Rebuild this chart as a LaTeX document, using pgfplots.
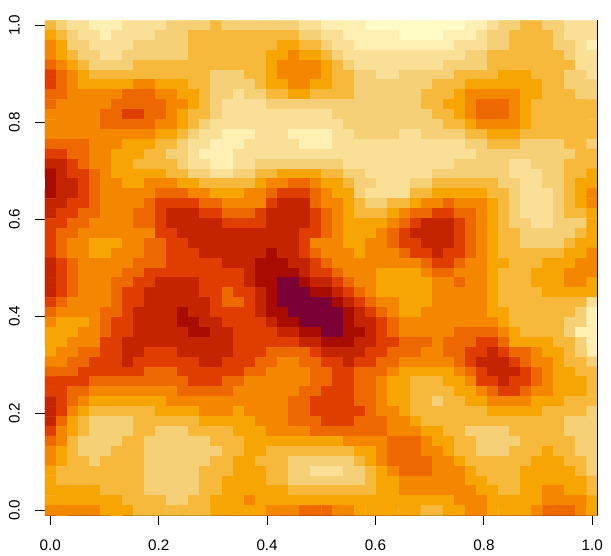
\documentclass[border=0pt]{standalone}
\usepackage{fontspec}
\setmainfont{Liberation Sans}
\usepackage{pgfplots}
\pgfplotsset{compat=1.18}

\begin{document}
\begin{tikzpicture}
\useasboundingbox (-44.8bp,-40.7bp) rectangle (566.2bp,515.3bp);
\begin{axis}[
    scale only axis,
    width=553bp, height=495bp,
    xmin=-0.0102, xmax=1.0102,
    ymin=-0.0102, ymax=1.0102,
    axis x line=bottom, axis y line=left,
    axis line style={-, black, line width=1bp},
    y axis line style={draw=none},
    xtick={0,0.2,0.4,0.6,0.8,1},
    ytick={0,0.2,0.4,0.6,0.8,1},
    tick align=outside,
    major tick length=9.5bp,
    tick style={black, line width=0.9bp},
    /pgf/number format/assume math mode=true,
    /pgf/number format/fixed,
    /pgf/number format/zerofill,
    /pgf/number format/precision=1,
    tick label style={font=\fontsize{15.3}{18}\selectfont, black},
    yticklabel style={rotate=90, anchor=south, yshift=12bp},
    xticklabel style={yshift=-12bp},
    colormap={pal}{rgb255=(122,0,53) rgb255=(168,11,0) rgb255=(196,36,0) rgb255=(224,62,0)
        rgb255=(238,104,0) rgb255=(245,135,0) rgb255=(247,165,3) rgb255=(246,185,59)
        rgb255=(246,208,119) rgb255=(250,223,151) rgb255=(254,240,178) rgb255=(255,251,197)},
    point meta min=0, point meta max=11,
    extra description/.code={\draw[black, line width=1bp] (rel axis cs:1,0) -- (rel axis cs:1,1);},
]
% level of each cell, row by row from the top, 50 cells per row
\addplot[matrix plot*, mesh/cols=50, mesh/ordering=x varies, point meta=explicit]
    table[header=false, row sep=crcr, meta index=0,
          x expr={(\coordindex-50*floor((\coordindex+0.5)/50))/49},
          y expr={1-floor((\coordindex+0.5)/50)/49}] {
7\\8\\9\\9\\10\\10\\10\\9\\9\\9\\9\\8\\8\\8\\8\\7\\8\\8\\8\\8\\8\\8\\8\\9\\9\\10\\10\\10\\10\\11\\11\\11\\11\\11\\11\\11\\11\\11\\10\\10\\9\\8\\8\\7\\7\\8\\8\\9\\9\\9\\
6\\7\\8\\9\\9\\10\\9\\9\\9\\9\\8\\8\\8\\7\\7\\7\\7\\7\\7\\7\\7\\7\\7\\8\\8\\9\\9\\10\\10\\10\\10\\10\\11\\11\\11\\11\\10\\10\\10\\9\\8\\8\\7\\7\\7\\7\\8\\9\\9\\9\\
5\\6\\8\\8\\9\\9\\9\\9\\8\\8\\8\\8\\8\\7\\7\\7\\7\\7\\7\\7\\7\\6\\6\\7\\7\\8\\9\\9\\10\\10\\10\\10\\10\\10\\10\\10\\10\\9\\9\\9\\8\\8\\7\\7\\7\\7\\8\\8\\9\\10\\
5\\6\\7\\8\\8\\9\\9\\8\\8\\8\\8\\8\\8\\7\\7\\7\\7\\7\\7\\7\\6\\6\\5\\6\\6\\7\\8\\9\\9\\9\\9\\9\\9\\9\\9\\9\\9\\9\\8\\8\\7\\7\\7\\7\\7\\7\\7\\8\\9\\9\\
4\\5\\6\\7\\8\\8\\8\\8\\7\\7\\7\\7\\7\\7\\7\\7\\7\\7\\7\\7\\6\\5\\5\\5\\5\\6\\7\\8\\9\\9\\9\\9\\9\\9\\9\\9\\8\\8\\8\\8\\7\\7\\7\\7\\7\\7\\7\\7\\9\\9\\
3\\4\\5\\6\\7\\7\\7\\7\\7\\7\\7\\7\\7\\7\\7\\8\\8\\8\\7\\7\\6\\5\\5\\5\\5\\6\\7\\7\\8\\8\\9\\9\\8\\8\\8\\8\\8\\7\\7\\7\\7\\6\\6\\6\\7\\7\\7\\8\\8\\9\\
3\\4\\5\\6\\6\\6\\6\\6\\5\\5\\6\\6\\6\\7\\7\\8\\8\\8\\8\\7\\6\\6\\5\\5\\6\\6\\7\\7\\8\\8\\8\\8\\8\\8\\8\\7\\7\\7\\6\\6\\6\\6\\6\\6\\6\\7\\7\\8\\8\\8\\
4\\4\\5\\5\\5\\5\\5\\4\\4\\4\\5\\5\\6\\6\\7\\8\\8\\9\\8\\8\\7\\7\\6\\6\\7\\7\\7\\7\\8\\8\\8\\8\\8\\8\\7\\7\\7\\6\\5\\5\\5\\5\\5\\6\\6\\7\\7\\7\\8\\8\\
4\\5\\5\\5\\5\\5\\4\\4\\4\\4\\4\\5\\5\\6\\7\\8\\9\\9\\9\\9\\8\\8\\8\\8\\8\\8\\8\\8\\8\\8\\8\\8\\8\\8\\7\\7\\6\\6\\5\\4\\4\\4\\5\\6\\7\\7\\7\\7\\7\\7\\
5\\5\\5\\5\\5\\4\\4\\3\\3\\4\\4\\5\\6\\7\\7\\8\\9\\9\\9\\9\\9\\9\\9\\9\\9\\9\\8\\8\\8\\8\\8\\8\\8\\8\\8\\7\\7\\6\\5\\4\\4\\4\\5\\6\\7\\7\\7\\7\\7\\7\\
5\\5\\5\\5\\5\\4\\4\\4\\4\\4\\5\\5\\6\\7\\8\\9\\9\\9\\9\\9\\9\\9\\9\\9\\9\\9\\9\\8\\8\\8\\8\\8\\8\\8\\8\\8\\7\\7\\6\\5\\5\\5\\5\\6\\7\\7\\7\\7\\7\\7\\
5\\5\\5\\5\\5\\5\\5\\5\\5\\5\\6\\6\\7\\8\\9\\9\\10\\10\\10\\9\\9\\9\\10\\10\\10\\10\\9\\9\\8\\8\\8\\8\\9\\9\\8\\8\\8\\8\\7\\7\\6\\6\\6\\7\\7\\7\\7\\7\\7\\7\\
4\\4\\4\\4\\5\\5\\5\\6\\6\\6\\7\\7\\8\\9\\9\\10\\10\\10\\9\\9\\9\\9\\9\\10\\10\\10\\9\\9\\9\\9\\9\\9\\9\\9\\9\\9\\9\\9\\8\\8\\7\\7\\7\\8\\8\\8\\8\\7\\7\\8\\
3\\3\\4\\4\\5\\5\\6\\6\\6\\7\\7\\8\\8\\9\\10\\10\\10\\9\\9\\9\\9\\9\\9\\9\\9\\9\\9\\9\\9\\9\\9\\9\\9\\9\\9\\9\\9\\9\\9\\8\\8\\8\\8\\8\\8\\8\\8\\8\\7\\7\\
2\\2\\3\\4\\5\\5\\6\\6\\7\\7\\7\\7\\8\\9\\9\\10\\10\\9\\9\\8\\8\\8\\8\\8\\8\\8\\8\\9\\9\\9\\9\\9\\9\\9\\9\\9\\9\\8\\8\\8\\8\\8\\9\\9\\8\\8\\8\\7\\7\\7\\
1\\2\\3\\3\\4\\5\\6\\6\\6\\6\\6\\7\\7\\8\\8\\9\\9\\8\\8\\7\\7\\6\\6\\6\\6\\7\\7\\8\\8\\9\\9\\9\\9\\9\\9\\8\\8\\8\\8\\8\\8\\8\\9\\9\\9\\8\\8\\7\\7\\6\\
1\\2\\2\\3\\4\\5\\5\\6\\6\\5\\5\\5\\6\\6\\7\\7\\7\\7\\7\\6\\5\\5\\4\\4\\5\\6\\6\\7\\8\\8\\9\\9\\9\\8\\8\\7\\7\\7\\7\\7\\7\\8\\8\\9\\9\\8\\8\\7\\6\\6\\
1\\2\\2\\3\\4\\5\\5\\5\\5\\5\\4\\4\\4\\5\\5\\6\\6\\6\\5\\5\\4\\3\\3\\3\\4\\5\\6\\6\\8\\9\\9\\9\\9\\7\\7\\6\\6\\6\\6\\6\\7\\7\\8\\9\\9\\9\\8\\7\\6\\5\\
2\\2\\3\\3\\4\\5\\5\\5\\5\\4\\3\\3\\3\\3\\4\\4\\5\\5\\5\\5\\3\\2\\2\\2\\4\\5\\5\\6\\7\\8\\8\\7\\7\\6\\5\\5\\4\\5\\5\\5\\6\\7\\8\\9\\9\\9\\8\\7\\6\\5\\
2\\3\\3\\4\\4\\5\\5\\5\\4\\4\\3\\2\\2\\2\\3\\3\\4\\4\\4\\3\\2\\2\\2\\2\\3\\4\\5\\6\\7\\7\\7\\6\\5\\4\\4\\3\\3\\4\\4\\5\\6\\7\\8\\9\\9\\9\\8\\7\\7\\6\\
3\\3\\4\\4\\5\\5\\5\\5\\4\\4\\3\\2\\2\\2\\2\\2\\3\\3\\3\\3\\2\\2\\2\\2\\3\\4\\5\\6\\6\\6\\6\\5\\4\\3\\2\\2\\2\\3\\4\\5\\6\\7\\8\\8\\9\\9\\8\\8\\8\\6\\
3\\4\\4\\5\\5\\5\\5\\5\\5\\5\\3\\3\\2\\2\\2\\2\\2\\2\\2\\2\\2\\2\\2\\3\\3\\4\\5\\6\\6\\6\\5\\4\\3\\2\\2\\2\\2\\3\\4\\5\\6\\7\\7\\8\\8\\8\\8\\8\\7\\6\\
3\\4\\5\\5\\6\\6\\6\\5\\5\\4\\4\\3\\3\\2\\2\\2\\2\\2\\2\\2\\2\\2\\2\\3\\5\\5\\5\\6\\6\\5\\5\\4\\3\\3\\2\\2\\2\\3\\4\\5\\6\\7\\7\\8\\8\\8\\8\\7\\6\\6\\
3\\4\\5\\5\\6\\6\\5\\5\\5\\4\\4\\3\\3\\3\\2\\2\\2\\2\\2\\2\\1\\2\\2\\3\\4\\5\\5\\5\\6\\5\\5\\5\\4\\3\\3\\2\\3\\3\\4\\5\\6\\7\\7\\7\\7\\7\\7\\6\\6\\5\\
2\\3\\4\\5\\5\\5\\5\\5\\4\\4\\4\\3\\3\\3\\3\\3\\2\\2\\2\\1\\1\\1\\2\\2\\3\\4\\5\\5\\5\\5\\5\\5\\5\\5\\4\\3\\3\\4\\5\\5\\6\\6\\7\\7\\7\\6\\6\\6\\5\\5\\
2\\3\\4\\5\\5\\5\\5\\4\\4\\3\\3\\3\\3\\3\\3\\3\\3\\3\\2\\1\\1\\1\\1\\2\\3\\3\\4\\5\\5\\5\\6\\6\\6\\6\\5\\4\\4\\5\\5\\5\\6\\7\\7\\7\\6\\6\\6\\5\\5\\5\\
2\\3\\4\\5\\5\\5\\4\\4\\3\\3\\2\\2\\2\\2\\3\\3\\3\\3\\2\\1\\1\\0\\0\\1\\2\\2\\3\\4\\5\\5\\6\\6\\6\\6\\6\\5\\5\\4\\5\\5\\6\\7\\7\\7\\6\\6\\6\\5\\5\\6\\
2\\3\\4\\5\\5\\5\\4\\3\\3\\2\\2\\2\\2\\2\\3\\3\\4\\3\\3\\2\\1\\0\\0\\0\\1\\1\\2\\3\\4\\5\\6\\6\\6\\6\\6\\5\\5\\5\\5\\5\\6\\7\\7\\7\\7\\6\\6\\6\\6\\6\\
3\\4\\5\\5\\5\\5\\4\\3\\3\\2\\2\\2\\2\\2\\2\\3\\4\\4\\3\\2\\1\\0\\0\\0\\0\\0\\1\\2\\3\\4\\5\\5\\6\\6\\6\\5\\5\\5\\5\\5\\6\\7\\7\\7\\7\\7\\7\\7\\7\\9\\
4\\5\\5\\5\\5\\4\\4\\3\\2\\2\\2\\2\\1\\2\\2\\3\\3\\3\\3\\2\\1\\1\\0\\0\\0\\0\\0\\1\\2\\3\\4\\5\\6\\6\\5\\5\\5\\5\\5\\5\\6\\6\\7\\7\\7\\7\\7\\7\\8\\10\\
5\\6\\6\\6\\5\\4\\3\\3\\2\\2\\2\\2\\1\\1\\2\\2\\3\\3\\3\\3\\2\\1\\1\\0\\0\\0\\0\\1\\2\\2\\3\\4\\5\\5\\5\\5\\5\\5\\5\\5\\5\\6\\7\\7\\7\\7\\7\\8\\8\\10\\
6\\6\\6\\5\\5\\4\\3\\3\\2\\2\\2\\2\\2\\1\\1\\2\\2\\3\\3\\3\\3\\2\\2\\1\\1\\0\\0\\1\\1\\2\\3\\4\\5\\5\\5\\5\\5\\4\\4\\4\\4\\5\\6\\7\\7\\7\\7\\8\\10\\10\\
6\\6\\5\\5\\5\\3\\3\\2\\2\\2\\2\\2\\2\\2\\2\\2\\2\\3\\3\\3\\3\\3\\3\\2\\2\\1\\1\\1\\2\\2\\3\\3\\4\\4\\4\\5\\4\\4\\4\\3\\3\\4\\6\\6\\6\\6\\7\\7\\8\\10\\
6\\5\\5\\4\\4\\3\\3\\2\\2\\3\\3\\3\\2\\2\\2\\2\\2\\3\\3\\3\\4\\4\\4\\4\\3\\2\\2\\2\\2\\3\\3\\4\\4\\4\\5\\5\\4\\4\\3\\3\\2\\3\\4\\4\\5\\6\\6\\7\\8\\10\\
5\\5\\4\\4\\3\\3\\3\\2\\3\\3\\3\\3\\3\\3\\2\\2\\3\\3\\3\\4\\4\\5\\5\\4\\4\\3\\3\\2\\3\\3\\4\\4\\5\\5\\5\\5\\5\\4\\3\\2\\2\\2\\3\\4\\5\\5\\6\\7\\7\\8\\
4\\4\\4\\3\\3\\3\\3\\3\\3\\4\\4\\4\\3\\3\\3\\3\\3\\3\\4\\4\\5\\5\\5\\5\\4\\4\\3\\3\\4\\4\\4\\5\\6\\6\\6\\6\\6\\5\\4\\3\\2\\2\\2\\3\\4\\5\\6\\6\\7\\7\\
3\\3\\3\\3\\4\\4\\4\\4\\4\\4\\4\\4\\4\\3\\3\\3\\4\\4\\5\\5\\5\\5\\5\\5\\4\\4\\3\\3\\4\\4\\5\\6\\6\\7\\7\\7\\6\\6\\5\\3\\3\\2\\3\\3\\4\\5\\6\\6\\6\\7\\
3\\3\\4\\4\\5\\5\\5\\5\\5\\5\\5\\5\\4\\4\\4\\4\\4\\5\\5\\5\\5\\5\\5\\4\\4\\3\\3\\3\\4\\4\\5\\6\\6\\7\\7\\7\\7\\6\\6\\5\\4\\3\\3\\4\\5\\5\\6\\6\\6\\7\\
2\\3\\4\\5\\6\\6\\6\\6\\6\\6\\6\\5\\5\\5\\5\\5\\5\\5\\5\\5\\5\\5\\4\\4\\3\\3\\3\\3\\4\\4\\5\\6\\6\\7\\7\\8\\7\\7\\6\\6\\5\\5\\5\\5\\6\\6\\6\\7\\7\\7\\
2\\3\\5\\6\\7\\7\\7\\7\\7\\7\\6\\6\\6\\6\\5\\5\\5\\6\\5\\5\\5\\5\\4\\4\\3\\3\\3\\3\\3\\4\\5\\5\\6\\7\\7\\7\\7\\7\\7\\7\\6\\6\\6\\6\\6\\7\\7\\7\\7\\8\\
2\\4\\6\\7\\8\\8\\8\\8\\7\\7\\7\\7\\7\\7\\6\\6\\6\\6\\6\\5\\5\\5\\4\\4\\4\\3\\3\\3\\4\\4\\4\\5\\5\\6\\7\\7\\7\\7\\7\\7\\7\\7\\7\\7\\7\\7\\7\\8\\8\\8\\
3\\5\\6\\7\\8\\8\\8\\8\\7\\7\\8\\8\\8\\7\\7\\7\\7\\6\\6\\6\\5\\5\\5\\5\\4\\4\\4\\4\\4\\4\\4\\5\\5\\5\\6\\6\\7\\7\\8\\8\\8\\8\\7\\7\\7\\7\\7\\8\\8\\8\\
4\\5\\7\\8\\8\\8\\8\\7\\7\\8\\8\\8\\8\\8\\8\\7\\7\\7\\6\\6\\6\\6\\6\\6\\6\\6\\6\\5\\5\\5\\5\\4\\4\\4\\5\\6\\6\\7\\7\\8\\8\\8\\8\\7\\7\\7\\7\\7\\8\\8\\
5\\6\\7\\8\\8\\8\\7\\7\\7\\8\\8\\8\\8\\8\\8\\8\\7\\7\\6\\6\\7\\7\\7\\7\\7\\7\\7\\7\\6\\6\\5\\4\\4\\4\\5\\5\\6\\7\\7\\8\\8\\8\\7\\7\\7\\6\\7\\7\\8\\8\\
5\\6\\7\\7\\8\\7\\7\\7\\7\\8\\8\\8\\8\\8\\8\\7\\7\\6\\6\\7\\7\\7\\8\\8\\8\\8\\8\\8\\7\\6\\5\\4\\4\\4\\4\\5\\5\\6\\7\\7\\7\\7\\7\\7\\6\\6\\6\\7\\7\\8\\
6\\7\\7\\7\\7\\7\\7\\7\\7\\8\\8\\8\\8\\8\\7\\7\\7\\6\\6\\6\\7\\7\\8\\8\\9\\9\\9\\8\\8\\7\\6\\5\\4\\4\\4\\5\\5\\5\\6\\7\\7\\7\\7\\6\\6\\6\\6\\6\\7\\8\\
6\\7\\7\\7\\7\\7\\7\\7\\7\\8\\8\\8\\8\\8\\7\\7\\6\\6\\6\\6\\7\\7\\8\\8\\8\\8\\8\\8\\8\\7\\6\\6\\5\\5\\5\\5\\5\\5\\6\\6\\7\\7\\7\\6\\6\\6\\6\\6\\6\\7\\
6\\6\\6\\6\\6\\7\\7\\7\\7\\8\\8\\8\\8\\8\\7\\7\\6\\6\\6\\6\\6\\6\\7\\7\\7\\7\\7\\7\\7\\7\\6\\6\\5\\5\\5\\5\\5\\5\\5\\6\\6\\7\\7\\6\\6\\5\\5\\6\\6\\7\\
6\\6\\6\\6\\6\\6\\6\\7\\7\\7\\7\\8\\8\\7\\7\\6\\6\\6\\5\\6\\6\\6\\6\\6\\6\\6\\6\\6\\6\\6\\6\\6\\6\\6\\6\\6\\6\\5\\5\\5\\6\\6\\6\\6\\6\\5\\5\\5\\5\\6\\
5\\5\\5\\5\\5\\6\\6\\6\\7\\7\\7\\7\\7\\7\\7\\6\\6\\6\\6\\6\\5\\5\\5\\4\\4\\4\\5\\5\\6\\6\\6\\6\\6\\6\\7\\7\\6\\6\\5\\5\\6\\6\\6\\6\\5\\4\\4\\4\\5\\6\\
};
\end{axis}
\end{tikzpicture}
\end{document}
